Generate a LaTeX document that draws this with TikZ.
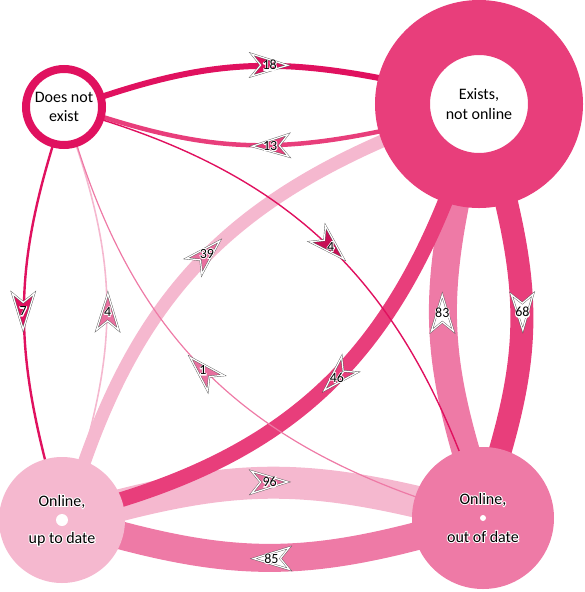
\documentclass[tikz,border=0pt]{standalone}
\usepackage{fontspec}
\setmainfont{Carlito}
\newfontfamily\halofont[FakeBold=12]{Carlito}
\usetikzlibrary{positioning,backgrounds,calc}
\definecolor{doesred}{HTML}{E0115F}
\definecolor{existpink}{HTML}{E83E7B}
\definecolor{outdatepink}{HTML}{EE7AA6}
\definecolor{updatepink}{HTML}{F5B8CF}
\definecolor{tipmid}{HTML}{E8709F}
\definecolor{tipdark}{HTML}{C80F55}
\definecolor{tipgray}{HTML}{555555}
\newcommand\halo[1]{\leavevmode\rlap{\halofont\color{white}#1}#1}
\tikzset{
  state/.style={
    circle,
    inner sep=0pt,
    align=center,
    font=\fontsize{16}{19.5}\selectfont
  },
  statetext/.style={
    anchor=base,
    inner sep=0pt,
    font=\fontsize{16}{19.5}\selectfont
  },
  link/.style={
    draw=#1,
    shorten <=-10pt,
    shorten >=-10pt
  },
  tipbox/.style={
    sloped,
    allow upside down,
    minimum width=36pt,
    minimum height=22pt,
    inner sep=0pt,
    outer sep=0pt
  },
  tipshape/.style={
    draw=tipgray,
    double=white,
    double distance=1.2pt,
    line width=0.4pt,
    fill=#1
  },
  count/.style={
    inner sep=0pt,
    font=\fontsize{14}{16}\selectfont
  }
}
\newcommand\countmark[3]{%
  \draw[tipshape=#2] (#1.east) -- (#1.north west) -- ($(#1.west)!.25!(#1.east)$) -- (#1.south west) -- cycle;
  \node[count] (#1-n) at (#1) {\halo{#3}};
}

\begin{document}
\begin{tikzpicture}[x=1pt, y=1pt]
\useasboundingbox (0,0) rectangle (584,-592);

% States
\node[state, draw=doesred, line width=8pt, fill=white, minimum size=76pt] (dne) at (64,-107) {Does not\\exist};
\node[state, draw=existpink, line width=55pt, fill=white, minimum size=153pt] (eno) at (479,-104) {Exists,\\not online};
\node[state, fill=updatepink, minimum size=126pt] (oud) at (62,-520) {};
\node[state, fill=outdatepink, minimum size=142pt] (ood) at (483,-518) {};

\node[circle, fill=white, inner sep=0pt, minimum size=12pt] (oud-dot) at (oud) {};
\node[circle, fill=white, inner sep=0pt, minimum size=6pt] (ood-dot) at (ood) {};
\node[statetext, yshift=14pt] (oud-top) at (oud) {\halo{Online,}};
\node[statetext, yshift=-23pt] (oud-bot) at (oud) {\halo{up to date}};
\node[statetext, yshift=14pt] (ood-top) at (ood) {\halo{Online,}};
\node[statetext, yshift=-24pt] (ood-bot) at (ood) {\halo{out of date}};

% Transitions, thick ones first
\begin{pgfonlayer}{background}
  \draw[link=updatepink, line width=32pt] (oud) to[bend left=14] node[tipbox, pos=.505] (m96) {} (ood);
  \draw[link=outdatepink, line width=28pt] (ood) to[bend left=15] node[tipbox, pos=.49] (m85) {} (oud);
  \draw[link=outdatepink, line width=28pt] (ood) to[bend left=14] node[tipbox, pos=.565] (m83) {} (eno);
  \draw[link=existpink, line width=23pt] (eno) to[bend left=15] node[tipbox, pos=.435] (m68) {} (ood);
  \draw[link=existpink, line width=15pt] (eno) to[bend left=26] node[tipbox, pos=.45] (m46) {} (oud);
  \draw[link=updatepink, line width=13pt] (oud) to[bend left=24] node[tipbox, pos=.54] (m39) {} (eno);
  \draw[link=doesred, line width=6pt] (dne) to[bend left=15] node[tipbox, pos=.615] (m18) {} (eno);
  \draw[link=existpink, line width=4.5pt] (eno) to[bend left=15] node[tipbox, pos=.385] (m13) {} (dne);
  \draw[link=doesred, line width=2.4pt] (dne) to[bend right=16] node[tipbox, pos=.53] (m7) {} (oud);
  \draw[link=updatepink, line width=1.6pt] (oud) to[bend right=18] node[tipbox, pos=.47] (m4a) {} (dne);
  \draw[link=doesred, line width=1.4pt] (dne) to[bend left=26] node[tipbox, pos=.52] (m4b) {} (ood);
  \draw[link=outdatepink, line width=1.2pt] (ood) to[bend left=27] node[tipbox, pos=.49] (m1) {} (dne);
\end{pgfonlayer}

% Counts
\countmark{m96}{tipmid}{96}
\countmark{m85}{white}{85}
\countmark{m83}{white}{83}
\countmark{m68}{white}{68}
\countmark{m46}{existpink}{46}
\countmark{m39}{tipmid}{39}
\countmark{m18}{doesred}{18}
\countmark{m13}{existpink}{13}
\countmark{m7}{doesred}{7}
\countmark{m4a}{tipmid}{4}
\countmark{m4b}{tipdark}{4}
\countmark{m1}{tipmid}{1}

\end{tikzpicture}
\end{document}
